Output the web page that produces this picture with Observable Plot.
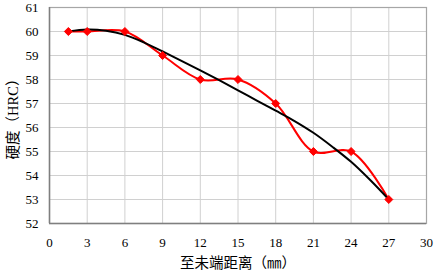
<!DOCTYPE html>
<html>
<head>
<meta charset="utf-8">
<script src="https://cdn.jsdelivr.net/npm/d3@7"></script>
<script src="https://cdn.jsdelivr.net/npm/@observablehq/plot@0.6"></script>
<style>
  html, body { margin: 0; padding: 0; background: #fff; }
  g[aria-label="x-axis label"] text, g[aria-label="y-axis label"] text { font-size: 14.5px; }
</style>
</head>
<body>
<div id="chart"></div>
<script>
const distance = [1.5, 3, 6, 9, 12, 15, 18, 21, 24, 27];
const hardness = [60, 60, 60, 59, 58, 58, 57, 55, 55, 53];
const trendX = [1.5, 3, 4.5, 6, 7.5, 9, 10.5, 12, 13.5, 15, 16.5, 18, 19.5, 21, 22.5, 24, 25.5, 27];
const trendY = [60.0, 60.08, 60.03, 59.86, 59.55, 59.17, 58.78, 58.38, 57.97, 57.55, 57.12, 56.7, 56.27, 55.78, 55.2, 54.57, 53.82, 53.0];
const xTicks = [0, 3, 6, 9, 12, 15, 18, 21, 24, 27, 30];
const yTicks = [52, 53, 54, 55, 56, 57, 58, 59, 60, 61];
const xLabel = "至未端距离（㎜）";
const yLabel = "硬度（HRC）";

const points = distance.map((d, i) => ({x: d, y: hardness[i]}));
const trend = trendX.map((d, i) => ({x: d, y: trendY[i]}));

const chart = Plot.plot({
  width: 434,
  height: 273,
  marginLeft: 49,
  marginRight: 8,
  marginTop: 7,
  marginBottom: 50,
  style: {fontFamily: "'Liberation Serif', 'Noto Sans CJK SC', serif", fontSize: "13px", color: "#000", background: "#fff"},
  x: {domain: [0, 30], ticks: xTicks},
  y: {domain: [52, 61], ticks: yTicks},
  marks: [
    Plot.gridX(xTicks, {stroke: "#d0d0d0", strokeOpacity: 1, strokeWidth: 1}),
    Plot.gridY(yTicks, {stroke: "#d0d0d0", strokeOpacity: 1, strokeWidth: 1}),
    Plot.frame({stroke: "#a6a6a6", strokeWidth: 1.2}),
    Plot.ruleX([0], {stroke: "#7f7f7f", strokeWidth: 1.5}),
    Plot.ruleY([52], {stroke: "#7f7f7f", strokeWidth: 1.5}),
    Plot.axisX(xTicks, {tickSize: 0, tickPadding: 14, fontSize: 13, label: xLabel, labelAnchor: "center", labelArrow: "none", labelOffset: 44}),
    Plot.axisY(yTicks, {tickSize: 0, tickPadding: 11, fontSize: 13, label: yLabel, labelAnchor: "center", labelArrow: "none", labelOffset: 42}),
    Plot.line(points, {x: "x", y: "y", stroke: "#ff0000", strokeWidth: 2, curve: "catmull-rom"}),
    Plot.line(trend, {x: "x", y: "y", stroke: "#000000", strokeWidth: 2, curve: "catmull-rom"}),
    Plot.dot(points, {x: "x", y: "y", symbol: "diamond2", r: 3.6, fill: "#ff0000", stroke: "#ff0000", strokeWidth: 1})
  ]
});
document.getElementById("chart").appendChild(chart);
</script>
</body>
</html>
